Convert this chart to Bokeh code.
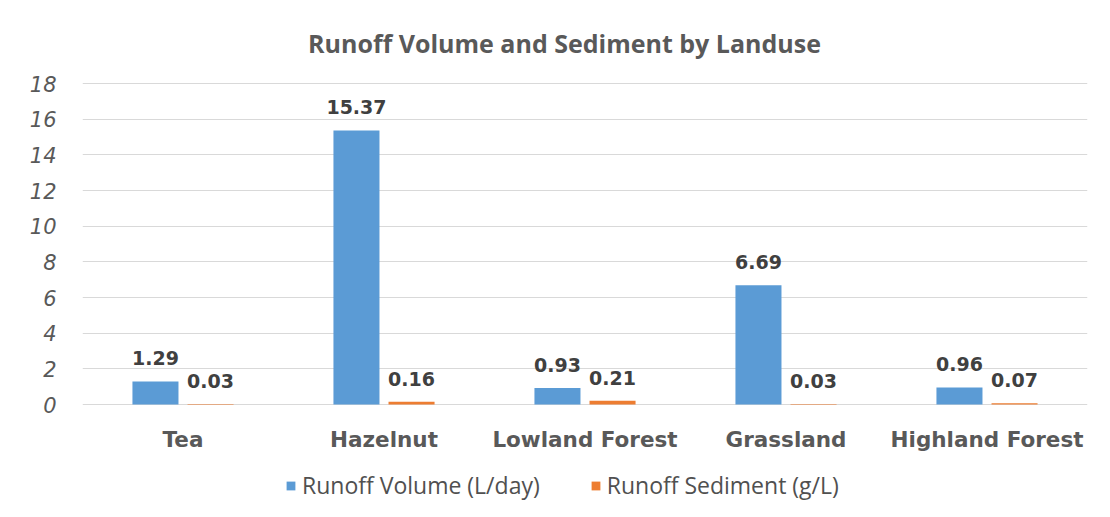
from bokeh.plotting import figure
from bokeh.models import FactorRange, ColumnDataSource, Legend, LegendItem, Label, FixedTicker, Range1d
from bokeh.transform import dodge
from bokeh.core.properties import value
from bokeh.embed import file_html
from bokeh.resources import INLINE

categories = ["Tea", "Hazelnut", "Lowland Forest", "Grassland", "Highland Forest"]
runoff_volume = [1.29, 15.37, 0.93, 6.69, 0.96]
runoff_sediment = [0.03, 0.16, 0.21, 0.03, 0.07]
series_names = ["Runoff Volume (L/day)", "Runoff Sediment (g/L)"]
y_ticks = [0, 2, 4, 6, 8, 10, 12, 14, 16, 18]
title_text = "Runoff Volume and Sediment by Landuse"

BLUE = "#5B9BD5"
ORANGE = "#ED7D31"
GRAY = "#595959"
DARK = "#404040"

W, H = 1094, 501
FRAME_LEFT, FRAME_RIGHT = 82, 7
# pixel rows of value 18 and value 0 inside the figure
PX_TOP, PX_ZERO = 83, 404
ppu = (PX_ZERO - PX_TOP) / 18.0
y_hi = 18 + PX_TOP / ppu
y_lo = -(H - PX_ZERO) / ppu
px_per_cat = (W - FRAME_LEFT - FRAME_RIGHT) / len(categories)

src = ColumnDataSource(dict(
    cat=categories,
    vol=runoff_volume,
    sed=runoff_sediment,
    vol_lbl=["%.2f" % v for v in runoff_volume],
    sed_lbl=["%.2f" % v for v in runoff_sediment],
))

p = figure(
    x_range=FactorRange(factors=categories, range_padding=0),
    y_range=Range1d(y_lo, y_hi),
    width=W, height=H,
    output_backend="svg", toolbar_location=None,
    min_border_left=FRAME_LEFT, min_border_right=FRAME_RIGHT, min_border_top=0, min_border_bottom=0,
)
p.outline_line_color = None
p.xaxis.visible = False

off = 0.137
bw = 0.229
r1 = p.vbar(x=dodge("cat", -off, range=p.x_range), top="vol", width=bw, source=src,
            fill_color=BLUE, line_color=None)
r2 = p.vbar(x=dodge("cat", off, range=p.x_range), top="sed", width=bw, source=src,
            fill_color=ORANGE, line_color=None)

lbl_kw = dict(text_align="center", text_baseline="middle", y_offset=-23,
              text_font=value("DejaVu Sans"), text_font_style="bold", text_font_size="19px",
              text_color=DARK)
p.text(x=dodge("cat", -off, range=p.x_range), y="vol", text="vol_lbl", source=src, **lbl_kw)
p.text(x=dodge("cat", off, range=p.x_range), y="sed", text="sed_lbl", source=src, **lbl_kw)

# category labels (drawn inside the frame, below zero)
cat_y = -(439 - PX_ZERO) / ppu
p.text(x="cat", y=cat_y, text="cat", source=src, text_align="center", text_baseline="middle",
       text_font=value("DejaVu Sans"), text_font_style="bold", text_font_size="21.5px",
       text_color=GRAY)

# title
title_y = (PX_ZERO - 42) / ppu
title_x = (564 - FRAME_LEFT) / px_per_cat
p.add_layout(Label(x=title_x, y=title_y, text=title_text, text_align="center", text_baseline="middle",
                   text_font="Open Sans", text_font_style="bold", text_font_size="25px",
                   text_color=GRAY))

# grid
p.xgrid.grid_line_color = None
p.ygrid.ticker = FixedTicker(ticks=y_ticks)
p.ygrid.grid_line_color = "#D9D9D9"
p.ygrid.grid_line_width = 1

# y axis
p.yaxis.ticker = FixedTicker(ticks=y_ticks)
p.yaxis.axis_line_color = None
p.yaxis.major_tick_line_color = None
p.yaxis.minor_tick_line_color = None
p.yaxis.major_label_standoff = 20
p.yaxis.major_label_text_font = "DejaVu Sans"
p.yaxis.major_label_text_font_style = "italic"
p.yaxis.major_label_text_font_size = "21px"
p.yaxis.major_label_text_color = GRAY

legend = Legend(items=[LegendItem(label=series_names[0], renderers=[r1]),
                       LegendItem(label=series_names[1], renderers=[r2])],
                orientation="horizontal", location=(203, 0),
                glyph_width=11, glyph_height=11, spacing=50, padding=0, margin=0,
                label_text_font="Open Sans", label_text_font_size="23px",
                label_text_color="#505050", label_standoff=6, border_line_color=None,
                background_fill_alpha=0)
p.add_layout(legend, "center")

open("out.html", "w").write(file_html(p, INLINE))
